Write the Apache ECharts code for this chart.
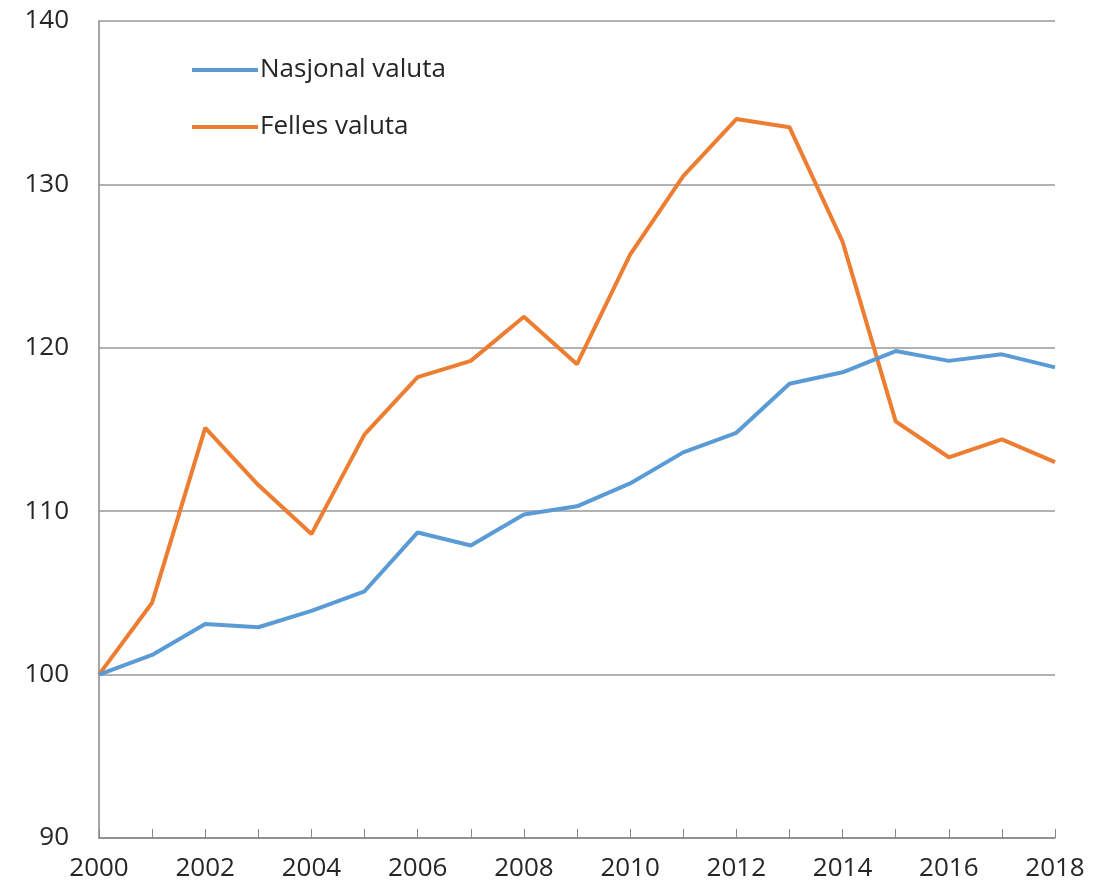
<!DOCTYPE html>
<html>
<head>
<meta charset="utf-8">
<script src="https://cdn.jsdelivr.net/npm/echarts@6/dist/echarts.min.js"></script>
<style>html,body{margin:0;padding:0;background:#fff}#c{width:1112px;height:882px}</style>
</head>
<body>
<div id="c"></div>
<script>
const years = ['2000','2001','2002','2003','2004','2005','2006','2007','2008','2009','2010','2011','2012','2013','2014','2015','2016','2017','2018'];
const nasjonal = [100, 101.2, 103.1, 102.9, 103.9, 105.1, 108.7, 107.9, 109.8, 110.3, 111.7, 113.6, 114.8, 117.8, 118.5, 119.8, 119.2, 119.6, 118.8];
const felles = [100, 104.4, 115.1, 111.6, 108.6, 114.7, 118.2, 119.2, 121.9, 119.0, 125.7, 130.5, 134.0, 133.5, 126.5, 115.5, 113.3, 114.4, 113.0];
const seriesNames = ['Nasjonal valuta', 'Felles valuta'];
const yTicks = {min: 90, max: 140, interval: 10};

const font = '"Open Sans", "Noto Sans", sans-serif';
const chart = echarts.init(document.getElementById('c'), null, {renderer: 'canvas'});
chart.setOption({
  animation: false,
  backgroundColor: '#fff',
  grid: {left: 99, right: 57, top: 21, bottom: 43, containLabel: false},
  legend: {
    orient: 'vertical', left: 187, top: 52,
    itemWidth: 66, itemHeight: 4, itemGap: 31,
    icon: 'rect',
    textStyle: {fontFamily: font, fontSize: 26, lineHeight: 26, color: '#262626', padding: [0,0,0,-3]},
    data: seriesNames
  },
  xAxis: {
    type: 'category', data: years, boundaryGap: false,
    axisLine: {lineStyle: {color: '#888', width: 1.5}},
    axisTick: {show: true, inside: true, length: 9, interval: 0, lineStyle: {color: '#888'}},
    axisLabel: {interval: 1, fontFamily: font, fontSize: 26, color: '#262626', margin: 18},
    splitLine: {show: false}
  },
  yAxis: {
    type: 'value', min: yTicks.min, max: yTicks.max, interval: yTicks.interval,
    axisLine: {show: true, lineStyle: {color: '#888', width: 1.5}},
    axisTick: {show: false},
    axisLabel: {fontFamily: font, fontSize: 26, color: '#262626', margin: 30},
    splitLine: {show: true, lineStyle: {color: '#999', width: 1.5}}
  },
  series: [
    {name: seriesNames[0], type: 'line', data: nasjonal, symbol: 'none', lineStyle: {color: '#5B9BD5', width: 4}, itemStyle: {color: '#5B9BD5'}, z: 3},
    {name: seriesNames[1], type: 'line', data: felles, symbol: 'none', lineStyle: {color: '#ED7D31', width: 4}, itemStyle: {color: '#ED7D31'}, z: 2}
  ]
});
</script>
</body>
</html>
